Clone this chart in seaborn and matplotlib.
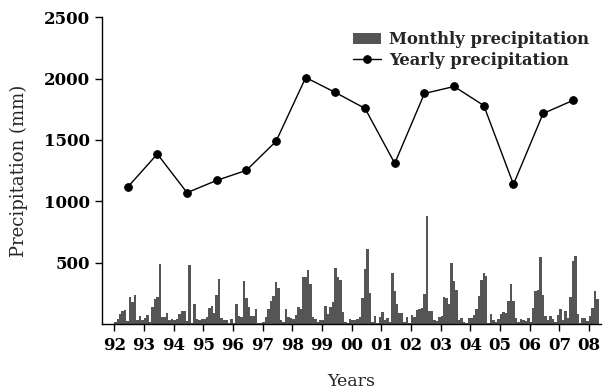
import numpy as np
import pandas as pd
import matplotlib
matplotlib.use("Agg")
import matplotlib.pyplot as plt
import seaborn as sns

# Monthly precipitation (mm), one list per year
m1992 = [20, 40, 80, 105, 115, 25, 220, 180, 240, 30, 65, 30]
m1993 = [50, 70, 20, 140, 200, 220, 490, 55, 60, 90, 35, 40]
m1994 = [30, 45, 80, 110, 110, 25, 480, 10, 160, 45, 30, 40]
m1995 = [40, 60, 130, 150, 90, 235, 365, 50, 30, 35, 5, 40]
m1996 = [10, 160, 65, 55, 350, 210, 135, 65, 65, 125, 10, 10]
m1997 = [20, 60, 120, 185, 230, 340, 290, 30, 15, 120, 55, 50]
m1998 = [40, 70, 140, 120, 380, 385, 440, 325, 60, 40, 20, 30]
m1999 = [30, 145, 80, 135, 180, 460, 380, 355, 100, 20, 10, 40]
m2000 = [30, 30, 40, 55, 215, 445, 610, 255, 20, 65, 5, 60]
m2001 = [95, 30, 50, 20, 415, 270, 160, 90, 90, 20, 55, 10]
m2002 = [70, 60, 115, 120, 130, 245, 880, 105, 105, 35, 25, 60]
m2003 = [65, 220, 210, 165, 495, 350, 275, 30, 50, 15, 10, 50]
m2004 = [50, 70, 125, 230, 355, 415, 390, 5, 80, 30, 15, 40]
m2005 = [80, 95, 90, 190, 330, 190, 50, 20, 40, 30, 25, 50]
m2006 = [15, 130, 270, 275, 545, 235, 65, 30, 65, 40, 15, 70]
m2007 = [120, 30, 110, 50, 220, 510, 555, 85, 10, 50, 50, 25]
m2008 = [65, 130, 270, 205]

monthly = [m1992, m1993, m1994, m1995, m1996, m1997, m1998, m1999,
           m2000, m2001, m2002, m2003, m2004, m2005, m2006, m2007, m2008]

years = list(range(92, 108))
yearly = [1115, 1385, 1070, 1170, 1252, 1488, 2008, 1886, 1756, 1309,
          1878, 1935, 1780, 1138, 1715, 1821]

tick_years = list(range(92, 109))
tick_labels = ["92", "93", "94", "95", "96", "97", "98", "99", "00",
               "01", "02", "03", "04", "05", "06", "07", "08"]

# Build tables
rows = []
for i, vals in enumerate(monthly):
    for m, v in enumerate(vals):
        rows.append({"t": 92 + i + (m + 0.4) / 12.0, "p": v})
dfm = pd.DataFrame(rows)
dfy = pd.DataFrame({"t": [y + 0.45 for y in years], "p": yearly})

sns.set_style("ticks")
plt.rcParams["font.family"] = ["DejaVu Serif"]

fig = plt.figure(figsize=(6.08, 3.89), dpi=100)
ax = fig.add_axes([0.168, 0.167, 0.82, 0.789])

sns.barplot(data=dfm, x="t", y="p", native_scale=True, width=1.0,
            color="#555555", saturation=1, linewidth=0, ax=ax,
            label="Monthly precipitation", errorbar=None)
sns.lineplot(data=dfy, x="t", y="p", color="black", marker="o",
             markersize=5.5, markeredgecolor="black", markerfacecolor="black",
             linewidth=1, ax=ax, label="Yearly precipitation")

ax.set_xlim(91.59, 108.39)
ax.set_ylim(0, 2500)
ax.set_xticks(tick_years)
ax.set_xticklabels(tick_labels)
ax.set_yticks([500, 1000, 1500, 2000, 2500])
ax.tick_params(axis="both", direction="out", length=5, width=1,
               labelsize=12, colors="black", pad=4)
for lab in ax.get_xticklabels() + ax.get_yticklabels():
    lab.set_fontweight("semibold")
sns.despine(ax=ax)
for s in ["left", "bottom"]:
    ax.spines[s].set_color("black")
    ax.spines[s].set_linewidth(1)

ax.set_xlabel("Years", fontsize=12.5, labelpad=14)
ax.set_ylabel("Precipitation (mm)", fontsize=13, labelpad=11)

handles, labels = ax.get_legend_handles_labels()
order = [labels.index("Monthly precipitation"), labels.index("Yearly precipitation")]
leg = ax.legend([handles[i] for i in order], [labels[i] for i in order],
                loc="upper right", frameon=False, fontsize=11.8,
                handlelength=1.7, handletextpad=0.5, borderaxespad=0.0,
                labelspacing=0.2, bbox_to_anchor=(0.99, 0.975))
for t in leg.get_texts():
    t.set_fontweight("semibold")

fig.savefig("out.png", dpi=100)
